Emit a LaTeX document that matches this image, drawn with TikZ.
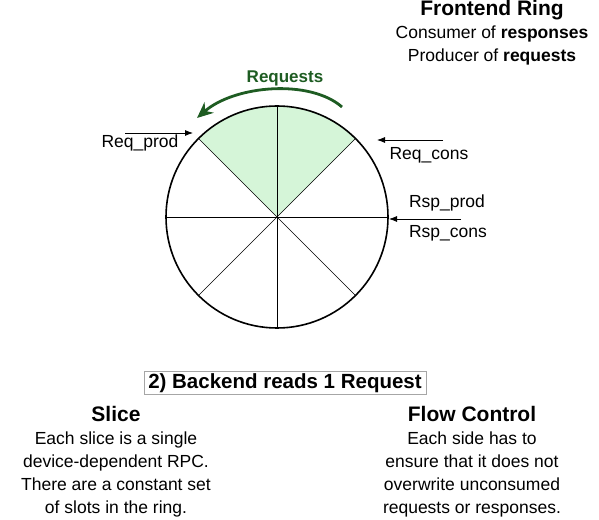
\documentclass[tikz,border=0pt]{standalone}
\usepackage{fontspec}
\setmainfont{Liberation Sans}
\usetikzlibrary{arrows.meta}
\definecolor{reqgreen}{HTML}{1E5C22}
\definecolor{slotgreen}{HTML}{D5F5D8}
\tikzset{
  ptr/.style={-{Latex[length=8pt,width=6pt]}, thick},
  lbl/.style={font=\fontsize{17.5}{20}\selectfont, inner sep=0pt},
  blk/.style={align=center, inner sep=0pt, font=\fontsize{17.5}{23}\selectfont},
}
\begin{document}
\begin{tikzpicture}[x=1pt, y=1pt]
\useasboundingbox (0,0) rectangle (599,519);
\coordinate (c) at (277,302);
\fill[slotgreen] (c) -- ++(45:111) arc[start angle=45, end angle=135, radius=111] -- cycle;
\node[circle, draw, line width=1.6pt, minimum size=222pt, inner sep=0pt] (ring) at (c) {};
\foreach \a in {0,45,...,315}
  \draw (ring.center) -- (ring.\a);
% request direction
\coordinate (arrS) at (342,412);
\coordinate (arrE) at (197,401);
\draw[reqgreen, line width=2.8pt, -{Stealth[length=16pt,width=14pt]}]
  (arrS) .. controls (310,440) and (235,434) .. (arrE);
\node[lbl, font=\fontsize{17}{20}\selectfont\bfseries, text=reqgreen] (req) at (285,441) {Requests};
% ring indices
\coordinate (rpS) at (125,386); \coordinate (rpE) at (193,386);
\coordinate (rcS) at (443,379); \coordinate (rcE) at (377,379);
\coordinate (rsS) at (461,300); \coordinate (rsE) at (389,300);
\draw[ptr] (rpS) -- (rpE);
\draw[ptr] (rcS) -- (rcE);
\draw[ptr] (rsS) -- (rsE);
\node[lbl] (reqprod) at (140,376) {Req\_prod};
\node[lbl] (reqcons) at (429,364) {Req\_cons};
\node[lbl] (rspprod) at (447,316) {Rsp\_prod};
\node[lbl] (rspcons) at (448,286) {Rsp\_cons};
\node[blk] (title) at (492,486) {{\fontsize{21}{23}\selectfont\bfseries Frontend Ring}\\
  Consumer of \textbf{responses}\\ Producer of \textbf{requests}};
\node[draw=black!35, inner xsep=4pt, inner ysep=2pt, text height=15pt, text depth=4pt,
  font=\fontsize{20.5}{23}\selectfont\bfseries] (step2) at (285,136) {2) Backend reads 1 Request};
\node[blk] (slice) at (116,57.5) {{\fontsize{21}{23}\selectfont\bfseries Slice}\\
  Each slice is a single\\ device-dependent RPC.\\ There are a constant set\\ of slots in the ring.};
\node[blk] (flow) at (472,57.5) {{\fontsize{21}{23}\selectfont\bfseries Flow Control}\\
  Each side has to\\ ensure that it does not\\ overwrite unconsumed\\ requests or responses.};
\end{tikzpicture}
\end{document}
